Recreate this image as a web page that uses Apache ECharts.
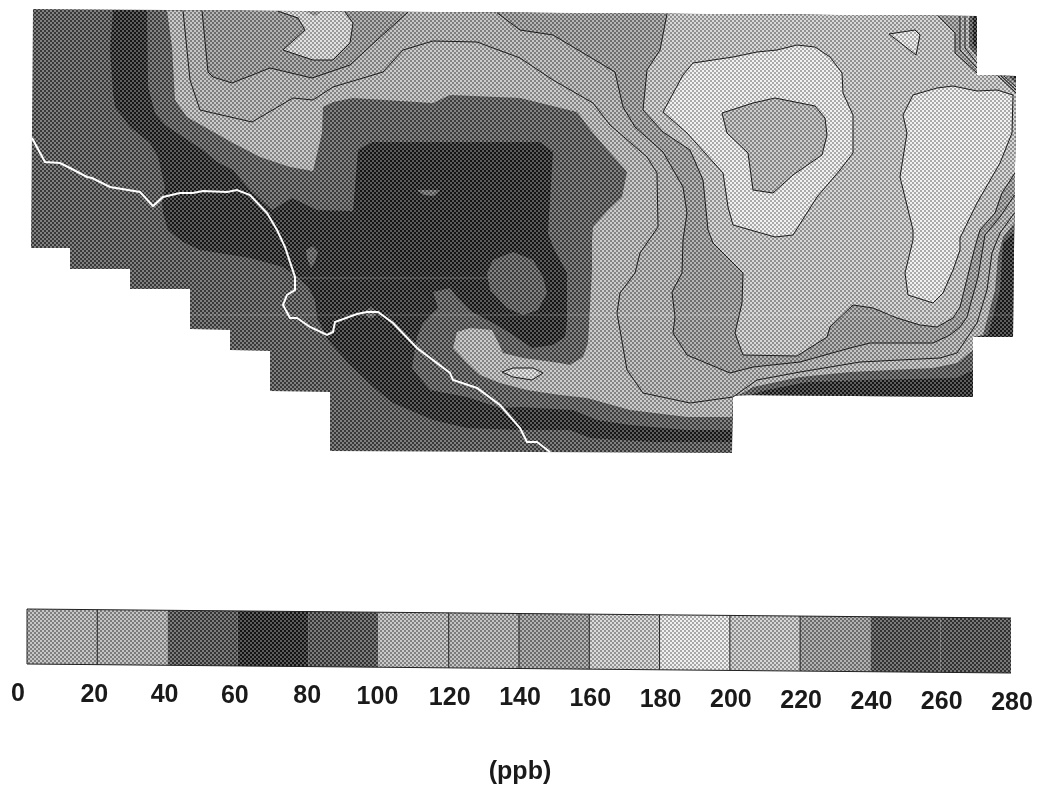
<!DOCTYPE html>
<html><head><meta charset="utf-8">
<style>html,body{margin:0;padding:0;background:#fff}#c{width:1045px;height:789px}</style>
<script src="https://cdn.jsdelivr.net/npm/echarts@6/dist/echarts.min.js"></script>
</head><body><div id="c"></div>
<script>
// Colour-scale data
const classEdges = [0,20,40,60,80,100,120,140,160,180,200,220,240,260,280];
const classGrays = [163,160,88,56,88,166,160,143,182,204,178,143,86,84];
const tickLabels = ['0','20','40','60','80','100','120','140','160','180','200','220','240','260','280'];
const scaleDividers = [20,120,140,160,180,200,220];
const unitLabel = '(ppb)';

// Map regions, in map units
const mapOutline = [[33,9],[977,16],[977,75],[1016,76],[1013,337],[973,337],[973,397],[733,395],[732,453],[330,451],[330,392],[270,391],[270,351],[230,350],[230,330],[190,329],[190,289],[130,289],[130,269],[70,269],[70,248],[31,248]];
const region60 = [[113,10],[977,16],[977,75],[1016,76],[1013,337],[973,337],[973,397],[733,395],[732,442],[653,442],[590,438],[570,430],[520,430],[467,428],[433,420],[393,403],[373,387],[347,362],[328,340],[317,318],[315,300],[308,287],[295,275],[283,267],[250,258],[200,250],[183,242],[168,230],[163,213],[162,203],[165,187],[158,157],[150,143],[130,127],[115,107],[113,93],[110,50]];
const region80 = [[147,10],[148,87],[155,113],[165,125],[203,150],[217,162],[233,170],[250,190],[272,210],[292,198],[317,210],[353,211],[433,292],[438,308],[423,323],[417,337],[412,368],[430,390],[467,397],[500,408],[520,407],[573,410],[597,420],[630,425],[687,430],[732,430],[733,396],[750,395],[767,390],[807,382],[867,380],[957,378],[973,370],[973,337],[988,335],[1000,290],[1003,243],[1014.2,232],[1016,80],[1012,76],[977,75],[977,50],[973,44],[973,16]];
const core60 = [[358,150],[372,142],[520,142],[540,142],[553,152],[548,233],[553,247],[567,273],[567,323],[565,337],[553,345],[532,348],[510,333],[493,323],[472,312],[457,297],[450,288],[433,292],[437,308],[353,211]];
const coreCentre40 = [[487,273],[493,260],[513,252],[533,260],[543,277],[547,293],[538,310],[523,315],[507,308],[490,290]];
const spotA = [[417,190],[440,190],[434,196],[424,195]];
const spotB = [[306,250],[313,246],[318,252],[315,262],[311,268],[307,258]];
const spotC = [[365,311],[371,307],[377,312],[373,318],[368,318]];
const region100 = [[167,10.5],[172,47],[175,100],[187,117],[233,143],[260,157],[290,167],[313,171],[322,133],[323,107],[333,102],[353,98],[433,103],[450,95],[520,98],[577,112],[593,133],[627,172],[622,197],[608,210],[593,227],[592,240],[592,270],[588,343],[583,357],[570,365],[560,363],[523,358],[503,353],[497,340],[492,330],[470,328],[457,332],[453,348],[467,363],[480,375],[500,383],[527,390],[560,395],[587,398],[630,410],[687,417],[732,417],[733,396],[743,393],[753,387],[800,377],[850,372],[933,368],[957,363],[973,350],[973,337],[983,335],[995,290],[998,257],[1003,237],[1014.3,223],[1016,84],[1007,76],[977,75],[977,57],[969,47],[969,16]];
const line120 = [[183,10.6],[190,80],[200,110],[252,122],[293,98],[313,100],[333,87],[383,72],[403,50],[433,41],[477,42],[520,58],[553,80],[593,103],[610,125],[647,157],[657,173],[658,227],[640,253],[635,273],[620,293],[617,313],[627,370],[643,393],[690,403],[733,397],[757,380],[800,372],[860,362],[940,358],[957,353],[977,323],[987,290],[992,253],[1000,233],[1014.4,213]];
const cornerEast120 = [[1016,87],[1004,76]];
const cornerNorth120 = [[977,63],[965,48],[965,16]];
const line140 = [[497,12.7],[520,30],[553,35],[615,72],[623,107],[635,127],[663,152],[683,187],[687,213],[683,240],[682,273],[672,292],[675,317],[673,333],[687,355],[730,373],[753,367],[800,362],[850,348],[870,343],[933,343],[950,335],[960,327],[967,317],[978,277],[985,235],[1000,217],[1014.6,195]];
const cornerEast140 = [[1016,90],[1001,76]];
const cornerNorth140 = [[977,68],[960,50],[960,16]];
const line160 = [[667,13.9],[660,50],[647,70],[643,110],[663,132],[690,150],[703,180],[708,230],[713,243],[743,273],[742,303],[735,333],[743,355],[797,356],[827,337],[830,327],[853,305],[873,308],[897,318],[920,325],[937,327],[953,318],[960,307],[965,287],[975,247],[980,230],[995,213],[1002,193],[1014.9,173]];
const cornerEast160 = [[1016,93],[998,76]];
const cornerNorth160 = [[977,73],[955,53],[955,33],[938,15.7]];
const lobeNorth = [[202,10.7],[208,72],[213,77],[232,83],[270,68],[312,78],[350,65],[377,40],[408,12.1]];
const islandNorth = [[278,11.2],[298,18],[305,30],[283,50],[313,60],[333,60],[350,43],[353,23],[345,12]];
const notchNorth = [[305,11.3],[322,11.4],[315,16]];
const ringEast = [[663,112],[683,75],[693,63],[733,57],[757,52],[777,50],[797,45],[815,47],[830,57],[842,73],[843,93],[853,115],[853,153],[840,170],[817,197],[793,235],[775,237],[733,225],[728,207],[723,173],[687,133]];
const ringCore = [[722,113],[753,103],[775,98],[815,106],[825,118],[827,135],[822,155],[793,175],[773,193],[753,190],[748,153],[727,133]];
const lobeEast = [[913,95],[937,88],[953,86],[977,91],[997,90],[1013,95],[1012,133],[1000,163],[977,203],[960,238],[960,250],[953,270],[943,293],[933,303],[908,295],[905,273],[913,240],[913,230],[900,177],[907,133],[903,115]];
const triangleNorth = [[889,34],[915,30],[920,35],[916,55]];
const lensSouth = [[502,372],[513,368],[533,368],[543,373],[532,380],[513,377]];
const coastline = [[32,138],[45,162],[60,163],[70,168],[87,177],[92,178],[110,187],[140,192],[153,206],[163,197],[180,193],[193,193],[203,191],[227,192],[237,190],[250,195],[267,213],[277,230],[285,247],[295,277],[295,290],[287,295],[283,305],[290,318],[297,318],[310,327],[327,335],[333,332],[335,322],[357,314],[367,312],[378,312],[393,323],[417,348],[450,373],[453,380],[477,388],[500,405],[520,428],[527,442],[537,442],[550,452]];
const scanStreakA = [[296,278],[490,278]];
const scanStreakB = [[190,315],[1013,315]];

const closed = a => a.concat([a[0]]);
// Painting order
const layers = [
  {pts: mapOutline, g: 92},
  {pts: region60, g: 58},
  {pts: region80, g: 96},
  {pts: core60, g: 56},
  {pts: coreCentre40, g: 96},
  {pts: spotA, g: 110},
  {pts: spotB, g: 100},
  {pts: spotC, g: 100},
  {pts: region100, g: 168},
  {pts: line120.concat(cornerEast120, [[977,75]], cornerNorth120), g: 162, lines: [line120, cornerEast120, cornerNorth120]},
  {pts: lobeNorth, g: 143, lines: [lobeNorth]},
  {pts: islandNorth, g: 190, lines: [islandNorth]},
  {pts: notchNorth, g: 143},
  {pts: line140.concat(cornerEast140, [[977,75]], cornerNorth140), g: 146, lines: [line140, cornerEast140, cornerNorth140]},
  {pts: line160.concat(cornerEast160, [[977,75]], cornerNorth160), g: 180, lines: [line160, cornerEast160, cornerNorth160]},
  {pts: ringEast, g: 206, lines: [closed(ringEast)]},
  {pts: ringCore, g: 168, lines: [closed(ringCore)]},
  {pts: lobeEast, g: 206, lines: [closed(lobeEast)]},
  {pts: triangleNorth, g: 204, lines: [closed(triangleNorth)]},
  {pts: lensSouth, g: 192, lines: [closed(lensSouth)]}
];

const tiles = {};
function halftone(g){
  if (tiles[g]) return tiles[g];
  const c = document.createElement('canvas'); c.width = c.height = 4;
  const x = c.getContext('2d'), d = 36;
  const hi = Math.min(255, g + d), lo = Math.max(0, g - d);
  x.fillStyle = `rgb(${lo},${lo},${lo})`; x.fillRect(0,0,4,4);
  x.fillStyle = `rgb(${hi},${hi},${hi})`; x.fillRect(0,0,2,2); x.fillRect(2,2,2,2);
  return tiles[g] = {image: c, repeat: 'repeat'};
}

const chart = echarts.init(document.getElementById('c'), null, {renderer:'canvas', width:1045, height:789});
const FONT = 'Liberation Sans, Arial, sans-serif';
const SCALE_L = 27, SCALE_R = 1011, SLOPE = 9 / 984;
const tilt = x => (x - SCALE_L) * SLOPE;

function renderMap(params, api){
  const L = layers[api.value(0)];
  const children = [{type:'polygon', shape:{points:L.pts.map(p=>api.coord(p))}, style:{fill:halftone(L.g)}}];
  (L.lines || []).forEach(l => children.push({type:'polyline', shape:{points:l.map(p=>api.coord(p))}, style:{fill:null, stroke:'#1c1c1c', lineWidth:1}}));
  return {type:'group', children};
}
function renderCoast(params, api){
  const line = (pts, stroke, w) => ({type:'polyline', shape:{points:pts.map(p=>api.coord(p))}, style:{fill:null, stroke, lineWidth:w}});
  return {type:'group', children:[
    line(scanStreakA, 'rgba(255,255,255,0.22)', 1),
    line(scanStreakB, 'rgba(255,255,255,0.22)', 1),
    line(coastline, '#fff', 2)
  ]};
}
function renderClass(params, api){
  const lo = api.value(0), hi = api.value(1), g = api.value(2);
  const pts = [[lo,1],[hi,1],[hi,0],[lo,0]].map(v=>{const p = api.coord(v); return [p[0], p[1]+tilt(p[0])];});
  return {type:'polygon', shape:{points:pts}, style:{fill:halftone(g)}};
}
function renderDivider(params, api){
  const p = api.coord([api.value(0),1]), q = api.coord([api.value(0),0]);
  return {type:'line', shape:{x1:p[0], y1:p[1]+tilt(p[0]), x2:q[0], y2:q[1]+tilt(q[0])}, style:{stroke:'#222', lineWidth:1}};
}
function renderFrame(params, api){
  const pts = [[0,1],[280,1],[280,0],[0,0]].map(v=>{const p = api.coord(v); return [p[0], p[1]+tilt(p[0])];});
  return {type:'polyline', shape:{points:[pts[2],pts[3],pts[0],pts[1]]}, style:{fill:null, stroke:'#222', lineWidth:1}};
}
function renderTick(params, api){
  const v = api.value(0), p = api.coord([v,0]);
  const dx = v === 0 ? -9 : (v < 80 ? -3 : (v < 120 ? -1 : 1));
  return {type:'text', x:p[0]+dx, y:p[1]+tilt(p[0])+30, style:{text:tickLabels[params.dataIndex], fill:'#1a1a1a', font:'bold 25px '+FONT, textAlign:'center', textVerticalAlign:'middle'}};
}
function renderUnit(params, api){
  const p = api.coord([140,0]);
  return {type:'text', x:520, y:p[1]+108, style:{text:unitLabel, fill:'#1a1a1a', font:'bold 25px '+FONT, textAlign:'center', textVerticalAlign:'middle'}};
}
const hiddenAxis = {show:false};
chart.setOption({
  animation:false,
  backgroundColor:'#fff',
  grid:[
    {left:0, top:0, width:1045, height:789},
    {left:SCALE_L, top:609, width:SCALE_R-SCALE_L, height:55}
  ],
  xAxis:[
    {type:'value', min:0, max:1045, gridIndex:0, ...hiddenAxis},
    {type:'value', min:0, max:280, interval:20, gridIndex:1, ...hiddenAxis}
  ],
  yAxis:[
    {type:'value', min:0, max:789, inverse:true, gridIndex:0, ...hiddenAxis},
    {type:'value', min:0, max:1, gridIndex:1, ...hiddenAxis}
  ],
  series:[
    {type:'custom', name:'map', xAxisIndex:0, yAxisIndex:0, clip:false, silent:true, data:layers.map((_,i)=>[i]), renderItem:renderMap, encode:{x:0}},
    {type:'custom', name:'coast', xAxisIndex:0, yAxisIndex:0, clip:false, silent:true, data:[[0]], renderItem:renderCoast, encode:{x:0}},
    {type:'custom', name:'scale', xAxisIndex:1, yAxisIndex:1, clip:false, silent:true,
      data:classGrays.map((g,i)=>[classEdges[i],classEdges[i+1],g]), renderItem:renderClass, encode:{x:[0,1]}},
    {type:'custom', name:'dividers', xAxisIndex:1, yAxisIndex:1, clip:false, silent:true, data:scaleDividers.map(v=>[v]), renderItem:renderDivider, encode:{x:0}},
    {type:'custom', name:'frame', xAxisIndex:1, yAxisIndex:1, clip:false, silent:true, data:[[0]], renderItem:renderFrame, encode:{x:0}},
    {type:'custom', name:'ticks', xAxisIndex:1, yAxisIndex:1, clip:false, silent:true, data:classEdges.map(v=>[v]), renderItem:renderTick, encode:{x:0}},
    {type:'custom', name:'unit', xAxisIndex:1, yAxisIndex:1, clip:false, silent:true, data:[[0]], renderItem:renderUnit, encode:{x:0}}
  ]
});
</script></body></html>
